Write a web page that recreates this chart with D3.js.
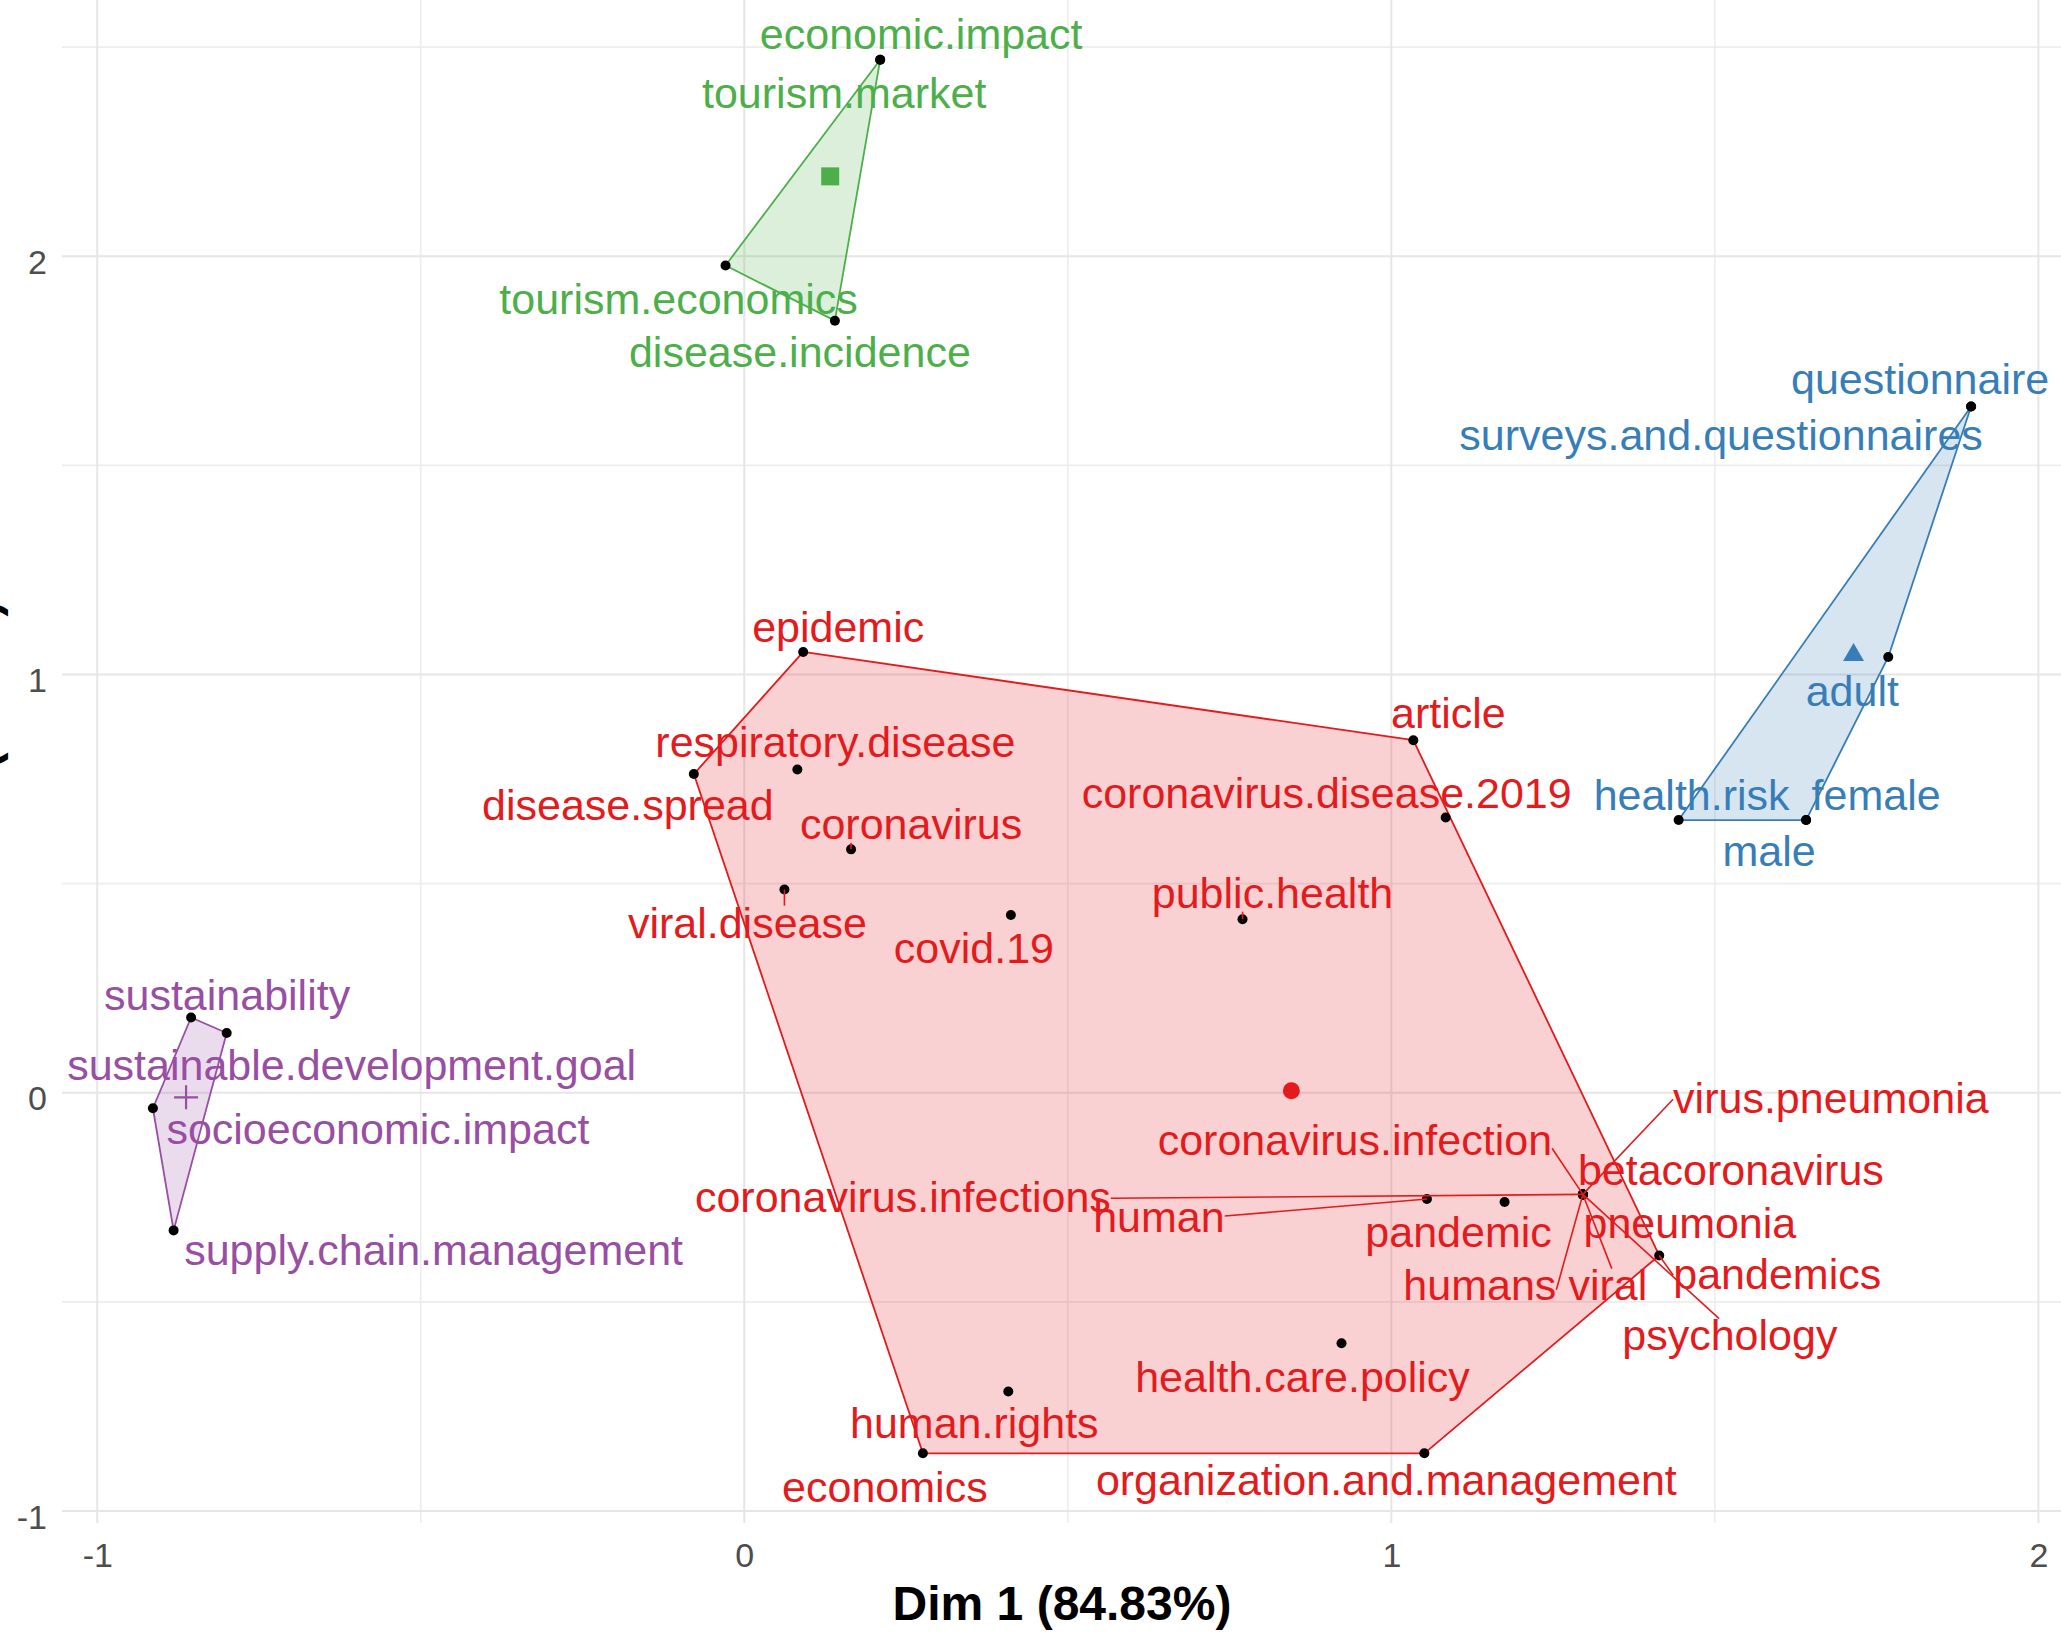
<!DOCTYPE html>
<html>
<head>
<meta charset="utf-8">
<script src="https://cdn.jsdelivr.net/npm/d3@7"></script>
<style>
  html, body { margin: 0; padding: 0; background: #ffffff; overflow: hidden; }
  svg { display: block; font-family: "Liberation Sans", Arial, sans-serif; }
</style>
</head>
<body>
<svg id="chart" width="2061" height="1632"></svg>
<script>
// Conceptual structure map: keyword coordinates on the first two dimensions,
// grouped into four clusters.

const words = [
  "epidemic", "respiratory.disease", "disease.spread", "coronavirus", "viral.disease",
  "covid.19", "public.health", "article", "coronavirus.disease.2019", "coronavirus.infection",
  "coronavirus.infections", "human", "pandemic", "humans", "viral", "betacoronavirus",
  "pneumonia", "virus.pneumonia", "pandemics", "psychology", "health.care.policy",
  "human.rights", "economics", "organization.and.management",
  "questionnaire", "surveys.and.questionnaires", "adult", "health.risk", "female", "male",
  "economic.impact", "tourism.market", "tourism.economics", "disease.incidence",
  "sustainability", "sustainable.development.goal", "socioeconomic.impact", "supply.chain.management"
];

const dim1 = [
  0.091, 0.082, -0.078, 0.165, 0.062,
  0.412, 0.770, 1.034, 1.084, 1.296,
  1.296, 1.055, 1.175, 1.296, 1.296, 1.296,
  1.296, 1.296, 1.414, 1.296, 0.923,
  0.408, 0.276, 1.051,
  1.896, 1.896, 1.768, 1.444, 1.641, 1.641,
  0.210, 0.210, -0.029, 0.140,
  -0.855, -0.800, -0.914, -0.882
];

const dim2 = [
  1.054, 0.773, 0.762, 0.582, 0.486,
  0.425, 0.415, 0.843, 0.658, -0.243,
  -0.243, -0.254, -0.261, -0.243, -0.243, -0.243,
  -0.243, -0.243, -0.389, -0.243, -0.599,
  -0.714, -0.862, -0.862,
  1.641, 1.641, 1.042, 0.652, 0.652, 0.652,
  2.470, 2.470, 1.978, 1.846,
  0.180, 0.143, -0.037, -0.329
];

const clusterOf = [
  1, 1, 1, 1, 1, 1, 1, 1, 1, 1, 1, 1, 1, 1, 1, 1, 1, 1, 1, 1, 1, 1, 1, 1,
  2, 2, 2, 2, 2, 2,
  3, 3, 3, 3,
  4, 4, 4, 4
];

const clusterIds = [1, 2, 3, 4];
const clusterColors = ["#E41A1C", "#377EB8", "#4DAF4A", "#984EA3"];
const centerShapes = ["circle", "triangle", "square", "plus"];

const xTicks = [-1, 0, 1, 2];
const yTicks = [-1, 0, 1, 2];
const xTitle = "Dim 1 (84.83%)";
const yTitle = "Dim 2 (9.61%)";

// Repelled label placement: pixel offset from each point to label centre (dx) and baseline (dy)
const labelNudge = {
  "epidemic": [35, -10], "respiratory.disease": [38, -12], "disease.spread": [-66, 46],
  "coronavirus": [60, -10], "viral.disease": [-37, 48], "covid.19": [-37, 48],
  "public.health": [30, -11], "article": [35, -12], "coronavirus.disease.2019": [-119, -10],
  "coronavirus.infection": [-228, -39], "coronavirus.infections": [-680, 18],
  "human": [-268, 33], "pandemic": [-46, 45], "humans": [-103, 106], "viral": [25, 106],
  "betacoronavirus": [148, -9], "pneumonia": [107, 44], "virus.pneumonia": [248, -81],
  "pandemics": [118, 34], "psychology": [147, 156], "health.care.policy": [-39, 49],
  "human.rights": [-34, 47], "economics": [-38, 49], "organization.and.management": [-38, 42],
  "questionnaire": [-51, -12], "surveys.and.questionnaires": [-250, 44], "adult": [-36, 49],
  "health.risk": [13, -10], "female": [70, -10], "male": [-37, 46],
  "economic.impact": [41, -11], "tourism.market": [-36, 48], "tourism.economics": [-47, 49],
  "disease.incidence": [-35, 46],
  "sustainability": [36, -7], "sustainable.development.goal": [125, 47],
  "socioeconomic.impact": [225, 36], "supply.chain.management": [260, 35]
};

// Leader lines: where they meet the label box (fractions of its width/height, or nearest edge)
const leaders = {
  "coronavirus": "near", "viral.disease": "near", "public.health": "near",
  "coronavirus.infections": [1, 0.5], "human": [1, 0.45], "coronavirus.infection": [1, 0.7],
  "virus.pneumonia": [0, 0.5], "humans": [1, 0.6], "viral": [0.55, 0],
  "psychology": [0.45, 0], "pandemics": [0, 0.5]
};

const W = 2061, H = 1632;
const panel = { left: 62, right: 2062, top: -10, bottom: 1523 };
const labelSize = 43;

function expand(ext) {
  const r = ext[1] - ext[0];
  return [ext[0] - 0.05 * r, ext[1] + 0.05 * r];
}

const x = d3.scaleLinear().domain(expand(d3.extent(dim1))).range([panel.left, panel.right]);
const y = d3.scaleLinear().domain(expand(d3.extent(dim2))).range([panel.bottom, panel.top]);
const color = d3.scaleOrdinal().domain(clusterIds).range(clusterColors);

const svg = d3.select("#chart");
svg.append("rect").attr("width", W).attr("height", H).attr("fill", "#ffffff");

const rows = words.map((w, i) => ({
  word: w, d1: dim1[i], d2: dim2[i], cl: clusterOf[i],
  px: x(dim1[i]), py: y(dim2[i])
}));

// grid
const grid = svg.append("g");
const xd = x.domain(), yd = y.domain();
const xMinor = d3.range(Math.ceil(xd[0] * 2) / 2, xd[1], 0.5).filter(v => !xTicks.includes(v));
const yMinor = d3.range(Math.ceil(yd[0] * 2) / 2, yd[1], 0.5).filter(v => !yTicks.includes(v));
grid.selectAll(".vminor").data(xMinor).join("line")
  .attr("x1", d => x(d)).attr("x2", d => x(d)).attr("y1", panel.top).attr("y2", panel.bottom)
  .attr("stroke", "#EDEDED").attr("stroke-width", 1.6);
grid.selectAll(".hminor").data(yMinor).join("line")
  .attr("y1", d => y(d)).attr("y2", d => y(d)).attr("x1", panel.left).attr("x2", panel.right)
  .attr("stroke", "#EDEDED").attr("stroke-width", 1.6);
grid.selectAll(".vmajor").data(xTicks).join("line")
  .attr("x1", d => x(d)).attr("x2", d => x(d)).attr("y1", panel.top).attr("y2", panel.bottom)
  .attr("stroke", "#E6E6E6").attr("stroke-width", 2);
grid.selectAll(".hmajor").data(yTicks).join("line")
  .attr("y1", d => y(d)).attr("y2", d => y(d)).attr("x1", panel.left).attr("x2", panel.right)
  .attr("stroke", "#E6E6E6").attr("stroke-width", 2);

// axes (plain hyphen-minus for negative ticks)
const tickText = d => String(d);
const xAxis = svg.append("g").attr("transform", `translate(0,${panel.bottom})`)
  .call(d3.axisBottom(x).tickValues(xTicks).tickSize(0).tickPadding(20).tickFormat(tickText));
const yAxis = svg.append("g").attr("transform", `translate(${panel.left},0)`)
  .call(d3.axisLeft(y).tickValues(yTicks).tickSize(0).tickPadding(15).tickFormat(tickText));
[xAxis, yAxis].forEach(a => {
  a.select(".domain").remove();
  a.selectAll("text").attr("fill", "#4D4D4D").attr("font-size", 34)
    .attr("font-family", "Liberation Sans, Arial, sans-serif");
});
yAxis.selectAll("text").attr("dy", "0.5em");

svg.append("text")
  .attr("x", (panel.left + panel.right) / 2).attr("y", 1620)
  .attr("text-anchor", "middle").attr("font-size", 48).attr("font-weight", "bold")
  .attr("fill", "#000").text(xTitle);
svg.append("text")
  .attr("transform", `translate(-2,${(panel.top + panel.bottom) / 2}) rotate(-90)`)
  .attr("text-anchor", "middle").attr("font-size", 48).attr("font-weight", "bold")
  .attr("fill", "#000").text(yTitle);

// cluster hulls
const hullG = svg.append("g");
clusterIds.forEach(c => {
  const pts = rows.filter(r => r.cl === c).map(r => [r.px, r.py]);
  const hull = d3.polygonHull(pts);
  if (!hull) return;
  hullG.append("path")
    .attr("d", "M" + hull.map(p => p.join(",")).join("L") + "Z")
    .attr("fill", color(c)).attr("fill-opacity", 0.2)
    .attr("stroke", color(c)).attr("stroke-width", 1.8).attr("stroke-linejoin", "round");
});

// keyword points
svg.append("g").selectAll("circle").data(rows).join("circle")
  .attr("cx", d => d.px).attr("cy", d => d.py).attr("r", 5).attr("fill", "#000");

const segG = svg.append("g");
const labG = svg.append("g");

// labels
rows.forEach(r => {
  const nud = labelNudge[r.word] || [0, -10];
  const cx = r.px + nud[0], base = r.py + nud[1];
  const t = labG.append("text")
    .attr("x", cx).attr("y", base)
    .attr("text-anchor", "middle").attr("font-size", labelSize)
    .attr("fill", color(r.cl)).text(r.word);
  const lead = leaders[r.word];
  if (!lead) return;
  const w = t.node().getComputedTextLength();
  const box = { x0: cx - w / 2, x1: cx + w / 2, y0: base - 0.74 * labelSize, y1: base + 0.08 * labelSize };
  let ex, ey;
  if (lead === "near") {
    ex = Math.max(box.x0, Math.min(box.x1, r.px));
    ey = Math.max(box.y0, Math.min(box.y1, r.py));
  } else {
    ex = box.x0 + lead[0] * (box.x1 - box.x0);
    ey = box.y0 + lead[1] * (box.y1 - box.y0);
  }
  if (Math.hypot(ex - r.px, ey - r.py) < 4) return;
  segG.append("line")
    .attr("x1", r.px).attr("y1", r.py).attr("x2", ex).attr("y2", ey)
    .attr("stroke", color(r.cl)).attr("stroke-width", 1.6);
});

// cluster centres
const centG = svg.append("g");
clusterIds.forEach((c, i) => {
  const mx = x(d3.mean(rows.filter(r => r.cl === c), r => r.d1));
  const my = y(d3.mean(rows.filter(r => r.cl === c), r => r.d2));
  const shape = centerShapes[i];
  if (shape === "plus") {
    centG.append("path")
      .attr("d", `M${mx - 12},${my}H${mx + 12}M${mx},${my - 12}V${my + 12}`)
      .attr("stroke", color(c)).attr("stroke-width", 2.2).attr("fill", "none");
  } else {
    const type = shape === "circle" ? d3.symbolCircle : shape === "triangle" ? d3.symbolTriangle : d3.symbolSquare;
    const size = shape === "circle" ? 227 : shape === "triangle" ? 190 : 324;
    centG.append("path")
      .attr("d", d3.symbol().type(type).size(size)())
      .attr("transform", `translate(${mx},${my})`)
      .attr("fill", color(c));
  }
});
</script>
</body>
</html>
